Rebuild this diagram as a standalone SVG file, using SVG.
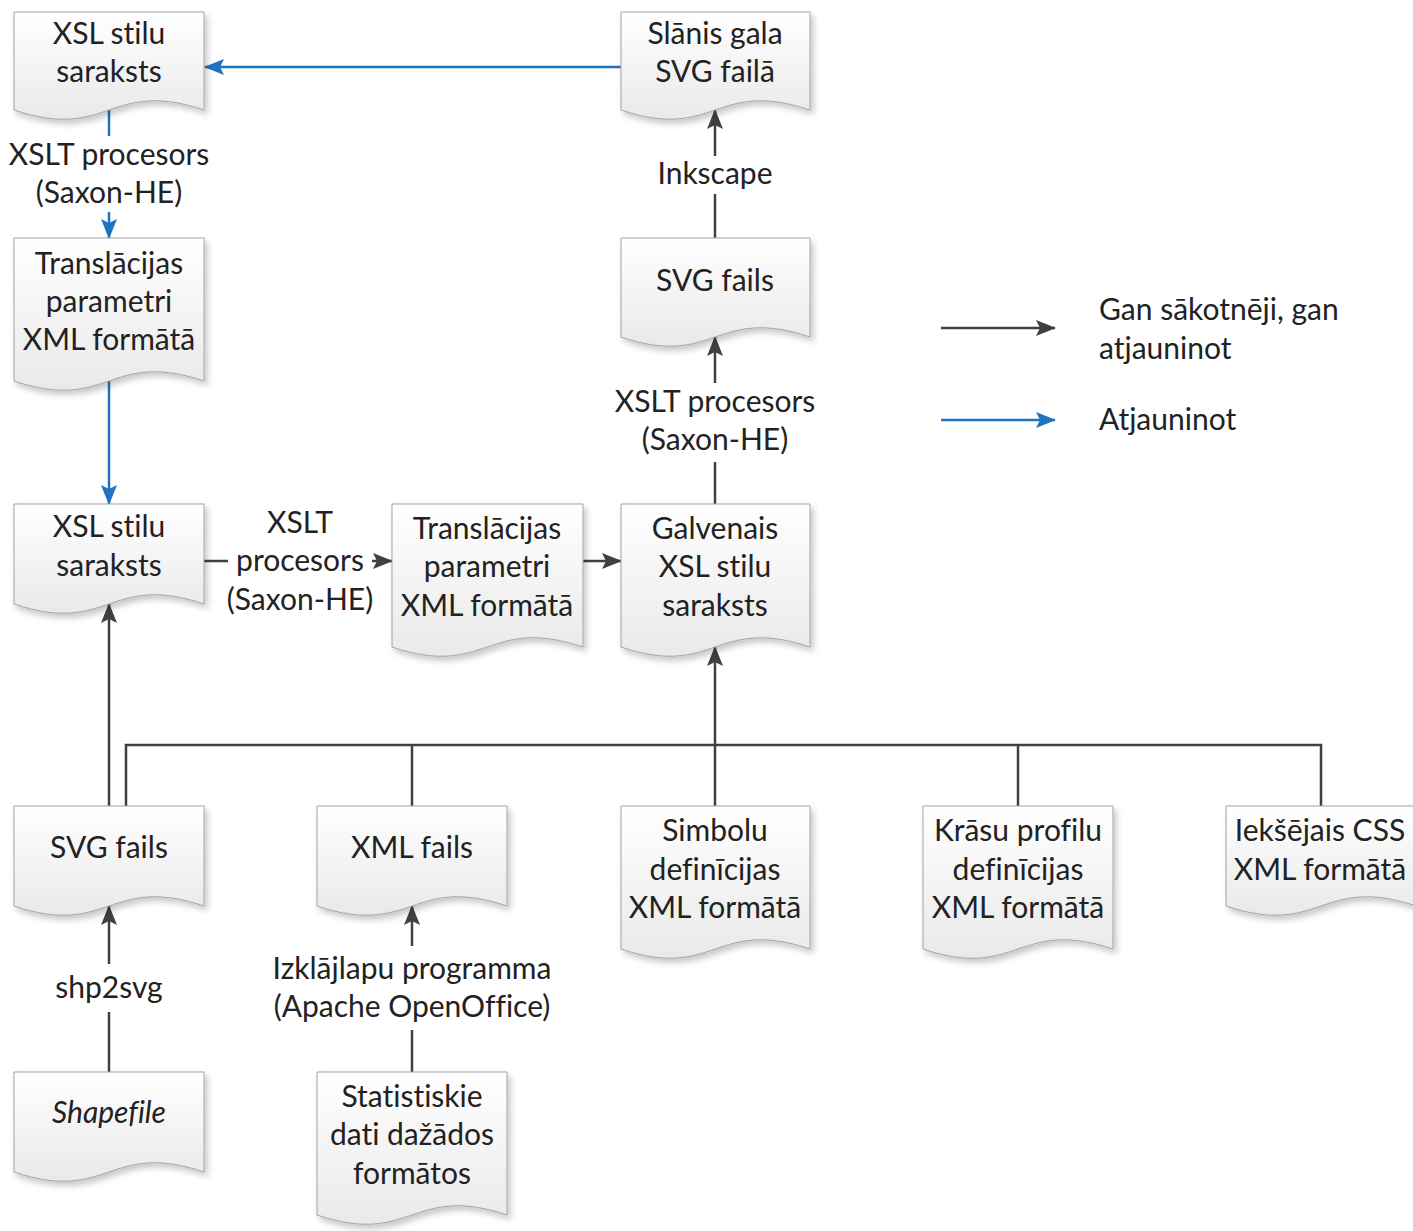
<svg xmlns="http://www.w3.org/2000/svg" width="1413" height="1231" viewBox="0 0 1413 1231">
<defs>
<linearGradient id="docfill" x1="0" y1="0" x2="0" y2="1">
<stop offset="0" stop-color="#ffffff"/>
<stop offset="1" stop-color="#e9e9e9"/>
</linearGradient>
<filter id="shadow" x="-10%" y="-10%" width="130%" height="130%">
<feDropShadow dx="3" dy="4" stdDeviation="3" flood-color="#000" flood-opacity="0.22"/>
</filter>
<marker id="arrowDark" viewBox="0 0 20 16" refX="19" refY="8" markerWidth="20" markerHeight="16" markerUnits="userSpaceOnUse" orient="auto">
<path d="M0,0 L20,8 L0,16 L4,8 Z" fill="#404040"/>
</marker>
<marker id="arrowBlue" viewBox="0 0 20 16" refX="19" refY="8" markerWidth="20" markerHeight="16" markerUnits="userSpaceOnUse" orient="auto">
<path d="M0,0 L20,8 L0,16 L4,8 Z" fill="#1f74c2"/>
</marker>
</defs>
<style>
.doc { fill: url(#docfill); stroke: #a3a3a3; stroke-width: 1; filter: url(#shadow); }
.t { font-family: Lato, "Open Sans", "Liberation Sans", sans-serif; font-size: 30px; fill: #222222; text-anchor: middle; font-variant-ligatures: none; }
.tl { font-family: Lato, "Open Sans", "Liberation Sans", sans-serif; font-size: 30px; fill: #222222; text-anchor: start; font-variant-ligatures: none; }
.dark { fill: none; stroke: #404040; stroke-width: 2.5; }
.blue { fill: none; stroke: #1f74c2; stroke-width: 2.5; }
</style>
<rect width="1413" height="1231" fill="#ffffff"/>

<g id="connectors">
<path class="blue" d="M621,67 H205" marker-end="url(#arrowBlue)"/>
<path class="blue" d="M109,110 V136"/>
<path class="blue" d="M109,212 V238" marker-end="url(#arrowBlue)"/>
<path class="blue" d="M109,381 V504" marker-end="url(#arrowBlue)"/>
<path class="dark" d="M715,238 V194"/>
<path class="dark" d="M715,156 V110" marker-end="url(#arrowDark)"/>
<path class="dark" d="M715,504 V462"/>
<path class="dark" d="M715,383 V337" marker-end="url(#arrowDark)"/>
<path class="dark" d="M204,561 H228"/>
<path class="dark" d="M372,561 H392" marker-end="url(#arrowDark)"/>
<path class="dark" d="M583,561 H621" marker-end="url(#arrowDark)"/>
<path class="dark" d="M109,806 V604" marker-end="url(#arrowDark)"/>
<path class="dark" d="M126,806 V745 H1321 V806"/>
<path class="dark" d="M412,806 V745"/>
<path class="dark" d="M1018,806 V745"/>
<path class="dark" d="M715,806 V647" marker-end="url(#arrowDark)"/>
<path class="dark" d="M109,1072 V1012"/>
<path class="dark" d="M109,964 V906" marker-end="url(#arrowDark)"/>
<path class="dark" d="M412,1072 V1030"/>
<path class="dark" d="M412,946 V906" marker-end="url(#arrowDark)"/>
<path class="dark" d="M941,328 H1055" marker-end="url(#arrowDark)"/>
<path class="blue" d="M941,420 H1055" marker-end="url(#arrowBlue)"/>
</g>

<g id="connector-labels">
<text class="t" x="109" y="165">XSLT procesors</text>
<text class="t" x="109" y="203">(Saxon-HE)</text>
<text class="t" x="715" y="184">Inkscape</text>
<text class="t" x="715" y="412">XSLT procesors</text>
<text class="t" x="715" y="450">(Saxon-HE)</text>
<text class="t" x="300" y="533">XSLT</text>
<text class="t" x="300" y="571">procesors</text>
<text class="t" x="300" y="610">(Saxon-HE)</text>
<text class="t" x="109" y="998">shp2svg</text>
<text class="t" x="412" y="979">Izklājlapu programma</text>
<text class="t" x="412" y="1017">(Apache OpenOffice)</text>
</g>

<g id="legend">
<text class="tl" x="1099" y="320">Gan sākotnēji, gan</text>
<text class="tl" x="1099" y="359">atjauninot</text>
<text class="tl" x="1099" y="430">Atjauninot</text>
</g>

<g id="node-xsl-top">
<path class="doc" d="M14,12 H204 V110 C109,78 109,142 14,110 Z"/>
<text class="t" x="109" y="44">XSL stilu</text>
<text class="t" x="109" y="82">saraksts</text>
</g>
<g id="node-slanis">
<path class="doc" d="M621,12 H810 V110 C715,78 715,142 621,110 Z"/>
<text class="t" x="715" y="44">Slānis gala</text>
<text class="t" x="715" y="82">SVG failā</text>
</g>
<g id="node-translacijas-left">
<path class="doc" d="M14,238 H204 V381 C109,349 109,413 14,381 Z"/>
<text class="t" x="109" y="274">Translācijas</text>
<text class="t" x="109" y="312">parametri</text>
<text class="t" x="109" y="350">XML formātā</text>
</g>
<g id="node-svg-top">
<path class="doc" d="M621,238 H810 V337 C715,305 715,369 621,337 Z"/>
<text class="t" x="715" y="291">SVG fails</text>
</g>
<g id="node-xsl-middle">
<path class="doc" d="M14,504 H204 V604 C109,572 109,636 14,604 Z"/>
<text class="t" x="109" y="537">XSL stilu</text>
<text class="t" x="109" y="576">saraksts</text>
</g>
<g id="node-translacijas-middle">
<path class="doc" d="M392,504 H583 V647 C487,615 487,679 392,647 Z"/>
<text class="t" x="487" y="539">Translācijas</text>
<text class="t" x="487" y="577">parametri</text>
<text class="t" x="487" y="616">XML formātā</text>
</g>
<g id="node-galvenais">
<path class="doc" d="M621,504 H810 V647 C715,615 715,679 621,647 Z"/>
<text class="t" x="715" y="539">Galvenais</text>
<text class="t" x="715" y="577">XSL stilu</text>
<text class="t" x="715" y="616">saraksts</text>
</g>
<g id="node-svg-bottom">
<path class="doc" d="M14,806 H204 V906 C109,874 109,938 14,906 Z"/>
<text class="t" x="109" y="858">SVG fails</text>
</g>
<g id="node-xml-fails">
<path class="doc" d="M317,806 H507 V906 C412,874 412,938 317,906 Z"/>
<text class="t" x="412" y="858">XML fails</text>
</g>
<g id="node-simbolu">
<path class="doc" d="M621,806 H810 V949 C715,917 715,981 621,949 Z"/>
<text class="t" x="715" y="841">Simbolu</text>
<text class="t" x="715" y="880">definīcijas</text>
<text class="t" x="715" y="918">XML formātā</text>
</g>
<g id="node-krasu">
<path class="doc" d="M923,806 H1113 V949 C1018,917 1018,981 923,949 Z"/>
<text class="t" x="1018" y="841">Krāsu profilu</text>
<text class="t" x="1018" y="880">definīcijas</text>
<text class="t" x="1018" y="918">XML formātā</text>
</g>
<g id="node-ieksejais">
<path class="doc" d="M1226,806 H1416 V906 C1321,874 1321,938 1226,906 Z"/>
<text class="t" x="1320" y="841">Iekšējais CSS</text>
<text class="t" x="1320" y="880">XML formātā</text>
</g>
<g id="node-shapefile">
<path class="doc" d="M14,1072 H204 V1172 C109,1140 109,1204 14,1172 Z"/>
<text class="t" x="109" y="1123" font-style="italic">Shapefile</text>
</g>
<g id="node-statistiskie">
<path class="doc" d="M317,1072 H507 V1215 C412,1183 412,1247 317,1215 Z"/>
<text class="t" x="412" y="1107">Statistiskie</text>
<text class="t" x="412" y="1145">dati dažādos</text>
<text class="t" x="412" y="1184">formātos</text>
</g>
</svg>
